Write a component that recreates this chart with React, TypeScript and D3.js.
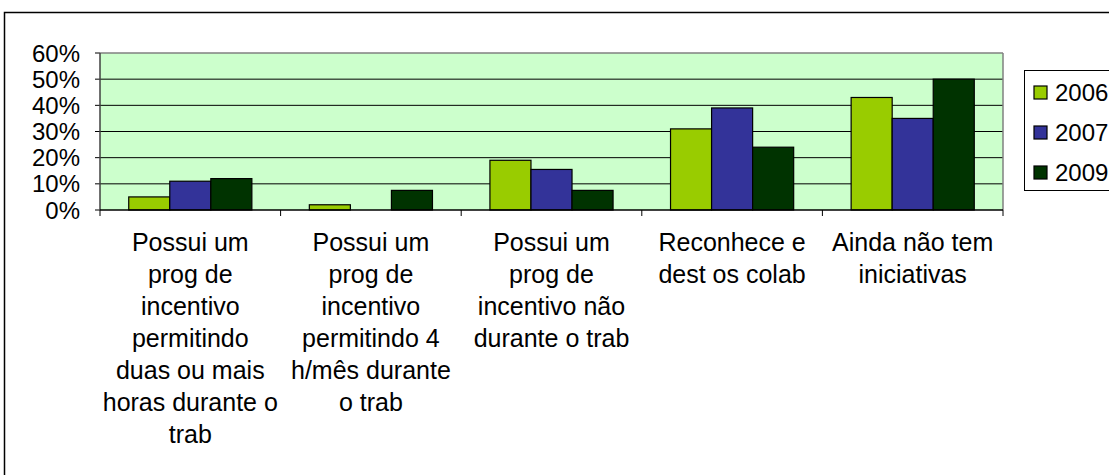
import React from "react";
import * as d3 from "d3";

const categories = [
  "Possui um\nprog de\nincentivo\npermitindo\nduas ou mais\nhoras durante o\ntrab",
  "Possui um\nprog de\nincentivo\npermitindo 4\nh/mês durante\no trab",
  "Possui um\nprog de\nincentivo não\ndurante o trab",
  "Reconhece e\ndest os colab",
  "Ainda não tem\niniciativas",
];
const seriesNames = ["2006", "2007", "2009"];
const values2006 = [0.05, 0.02, 0.19, 0.31, 0.43];
const values2007 = [0.11, 0, 0.155, 0.39, 0.35];
const values2009 = [0.12, 0.075, 0.075, 0.24, 0.5];
const seriesColors = ["#99CC00", "#333399", "#003300"];
const yTicks = [0, 0.1, 0.2, 0.3, 0.4, 0.5, 0.6];

const W = 1109;
const H = 475;
const FONT = "'Liberation Sans', Arial, sans-serif";

export default function App() {
  const left = 100, right = 1003, top = 53, bottom = 210;
  const x = d3.scaleBand<string>().domain(categories).range([left, right]).padding(0);
  const y = d3.scaleLinear().domain([0, 0.6]).range([bottom, top]);
  const bw = x.bandwidth();
  const barW = bw / 4.4;
  const inner = d3
    .scaleBand<string>()
    .domain(seriesNames)
    .range([(bw - 3 * barW) / 2, (bw + 3 * barW) / 2])
    .padding(0);
  const allValues = [values2006, values2007, values2009];
  const fmt = d3.format(".0%");
  const lineH = 32;

  return (
    <svg
      width={W}
      height={H}
      style={{ position: "absolute", left: 0, top: 0, background: "#fff" }}
      fontFamily={FONT}
    >
      <rect x={4.5} y={12.5} width={1300} height={600} fill="#fff" stroke="#000" strokeWidth={1.5} />
      <rect x={left} y={top} width={right - left} height={bottom - top} fill="#CCFFCC" />
      {yTicks.map((t) => (
        <g key={t}>
          {t > 0 && t < 0.6 && (
            <line x1={left} x2={right} y1={y(t)} y2={y(t)} stroke="#000" strokeWidth={1} />
          )}
          <line x1={left - 5} x2={left} y1={y(t)} y2={y(t)} stroke="#000" strokeWidth={1} />
          <text x={80} y={y(t)} dy="0.36em" textAnchor="end" fontSize={24} fill="#000">
            {fmt(t)}
          </text>
        </g>
      ))}
      <line x1={left} x2={right} y1={top} y2={top} stroke="#808080" strokeWidth={1.5} />
      <line x1={right} x2={right} y1={top} y2={bottom} stroke="#808080" strokeWidth={1.5} />
      {categories.map((c, ci) =>
        allValues.map((vals, si) => {
          const v = vals[ci];
          if (v <= 0) return null;
          const bx = (x(c) as number) + (inner(seriesNames[si]) as number);
          return (
            <rect
              key={c + si}
              x={bx}
              y={y(v)}
              width={inner.bandwidth()}
              height={y(0) - y(v)}
              fill={seriesColors[si]}
              stroke="#000"
              strokeWidth={1.2}
            />
          );
        })
      )}
      <line x1={left} x2={left} y1={top} y2={bottom} stroke="#404040" strokeWidth={1.5} />
      <line x1={left} x2={right} y1={bottom} y2={bottom} stroke="#000" strokeWidth={1.5} />
      {categories.map((c) => (
        <line key={"t" + c} x1={x(c) as number} x2={x(c) as number} y1={bottom} y2={bottom + 6} stroke="#000" />
      ))}
      <line x1={right} x2={right} y1={bottom} y2={bottom + 6} stroke="#000" />
      {categories.map((c) => (
        <text key={"l" + c} textAnchor="middle" fontSize={25} fill="#000">
          {c.split("\n").map((ln, i) => (
            <tspan key={i} x={(x(c) as number) + bw / 2} y={251 + i * lineH}>
              {ln}
            </tspan>
          ))}
        </text>
      ))}
      <rect x={1024.5} y={70.5} width={200} height={120} fill="#fff" stroke="#000" strokeWidth={1} />
      {seriesNames.map((s, i) => (
        <g key={s}>
          <rect x={1034} y={86 + i * 40} width={13} height={13} fill={seriesColors[i]} stroke="#000" strokeWidth={1.2} />
          <text x={1055} y={92.5 + i * 40} dy="0.36em" fontSize={24} fill="#000">
            {s}
          </text>
        </g>
      ))}
    </svg>
  );
}
